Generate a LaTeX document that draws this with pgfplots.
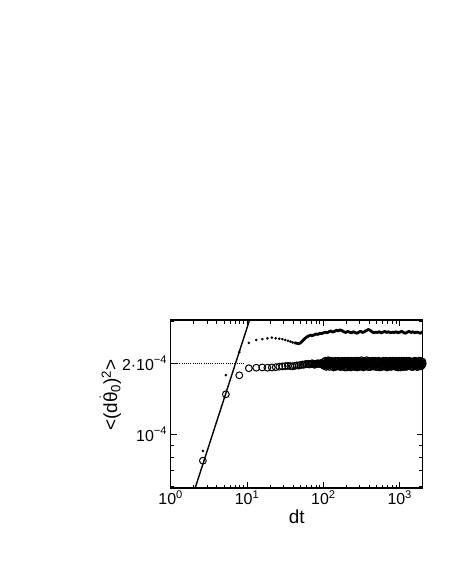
\documentclass[border=0pt]{standalone}
\usepackage{fontspec}
\setmainfont{Liberation Sans}
\usepackage{pgfplots}
\pgfplotsset{compat=1.18}

\newcommand{\thetadot}{$\dot{\hbox{θ}}$}

\begin{document}
\begin{tikzpicture}
  \begin{axis}[
      scale only axis,
      width=252bp, height=168bp,
      xmode=log, ymode=log,
      xmin=1, xmax=2000,
      ymin=5.92e-5, ymax=3.05e-4,
      xtick={1,10,100,1000},
      xticklabels={10\textsuperscript{0},10\textsuperscript{1},10\textsuperscript{2},10\textsuperscript{3}},
      minor xtick={2,3,...,9,20,30,...,90,200,300,...,900,2000},
      ytick={1e-4,2e-4},
      yticklabels={10\textsuperscript{−4},2·10\textsuperscript{−4}},
      minor ytick={6e-5,7e-5,8e-5,9e-5,3e-4},
      tick label style={font=\fontsize{16}{18}\selectfont},
      xticklabel style={yshift=1bp},
      label style={font=\fontsize{19}{22}\selectfont},
      major tick length=6bp, minor tick length=3.5bp,
      every tick/.style={black, line width=0.9bp},
      axis line style={line width=1.5bp},
      xlabel={dt},
      ylabel={<(d\thetadot\textsubscript{0})\textsuperscript{2}>},
      xlabel style={at={(axis description cs:0.5,-0.17)}, anchor=center},
      ylabel style={at={(axis description cs:-0.24,0.554)}, anchor=center},
    ]
    % fitted line
    \addplot[black, line width=1.4bp] coordinates {(1.9,5.38e-5) (11.5,3.25e-4)};
    % reference level
    \addplot[black, line width=1bp, dash pattern=on 1bp off 1.2bp] coordinates {(1,2e-4) (9,2e-4)};
    % filled dots, separated part
    \addplot[only marks, mark=*, mark size=1.1bp, black] coordinates {
      (2.64,8.5e-5) (5.28,1.78e-4) (7.92,2.23e-4) (10.56,2.44e-4)
      (13.2,2.51e-4) (15.84,2.53e-4) (18.48,2.55e-4) (21.12,2.57e-4)
      (23.76,2.55e-4) (26.4,2.54e-4) (29.04,2.53e-4) (31.68,2.51e-4)
      (34.32,2.49e-4) (36.96,2.47e-4) (39.6,2.45e-4) (42.24,2.44e-4)
    };
    % filled dots, dense part
    \addplot[black, line width=2.8bp, line join=round] coordinates {
      (42.24,2.44e-4) (44.9,2.43e-4) (47.5,2.42e-4) (50.2,2.44e-4) (52.8,2.48e-4)
      (56,2.53e-4) (60,2.58e-4) (64,2.61e-4) (68,2.63e-4) (72,2.62e-4)
      (76,2.64e-4) (80,2.66e-4) (85,2.65e-4) (90,2.68e-4) (95,2.67e-4)
      (100,2.69e-4) (106,2.71e-4) (112,2.69e-4) (118,2.72e-4) (125,2.74e-4)
      (132,2.71e-4) (140,2.73e-4) (148,2.76e-4) (156,2.74e-4) (165,2.77e-4)
      (175,2.75e-4) (185,2.72e-4) (196,2.70e-4) (208,2.73e-4) (220,2.71e-4)
      (233,2.69e-4) (246,2.72e-4) (260,2.70e-4) (275,2.68e-4) (291,2.71e-4)
      (308,2.73e-4) (326,2.70e-4) (345,2.72e-4) (365,2.75e-4) (386,2.78e-4)
      (408,2.76e-4) (432,2.72e-4) (457,2.69e-4) (483,2.71e-4) (511,2.70e-4)
      (541,2.72e-4) (572,2.69e-4) (605,2.71e-4) (640,2.73e-4) (677,2.70e-4)
      (716,2.72e-4) (757,2.69e-4) (801,2.71e-4) (847,2.70e-4) (896,2.72e-4)
      (948,2.69e-4) (1003,2.71e-4) (1061,2.73e-4) (1122,2.70e-4) (1187,2.68e-4)
      (1255,2.71e-4) (1328,2.73e-4) (1405,2.70e-4) (1486,2.72e-4) (1572,2.69e-4)
      (1663,2.71e-4) (1759,2.70e-4) (1860,2.68e-4) (1968,2.71e-4) (2000,2.72e-4)
    };
    % open circles
    \addplot[only marks, mark=o, mark size=3.4bp, black, mark options={line width=1.0bp}] coordinates {
      (2.64,7.73e-5) (5.28,1.477e-4) (7.92,1.778e-4) (10.56,1.905e-4)
      (13.2,1.915e-4) (15.84,1.92e-4) (18.48,1.915e-4) (21.12,1.92e-4)
      (23.76,1.925e-4) (26.4,1.935e-4) (29.04,1.94e-4) (31.68,1.945e-4)
      (34.32,1.95e-4) (36.96,1.945e-4) (39.6,1.94e-4) (42.24,1.95e-4)
      (44.88,1.96e-4) (47.52,1.955e-4) (50.16,1.965e-4) (52.8,1.975e-4)
      (55.44,1.97e-4) (58.08,1.985e-4) (60.72,1.98e-4) (63.36,1.99e-4)
      (66.0,1.975e-4) (68.64,1.985e-4) (71.28,2.0e-4) (73.92,1.99e-4)
      (76.56,1.97e-4) (79.2,1.98e-4) (81.84,1.995e-4) (84.48,2.0e-4)
      (87.12,1.985e-4) (89.76,1.99e-4) (92.4,2.005e-4) (95.04,1.99e-4)
      (97.68,1.975e-4)
      (100,1.99e-4) (102.5,2.03e-4) (105,1.96e-4) (107.7,2.01e-4) (110.4,1.95e-4)
      (113,2.04e-4) (116,2.06e-4) (119,1.98e-4) (122,2.05e-4) (125,1.97e-4)
      (128,2.01e-4) (131,1.94e-4) (134,2.02e-4) (138,1.96e-4) (141,2.03e-4)
      (145,1.93e-4) (148,1.99e-4) (152,2.04e-4) (156,1.95e-4) (160,2.01e-4)
      (164,1.93e-4) (168,2.03e-4) (172,1.97e-4) (176,2.05e-4) (181,1.96e-4)
      (185,2.00e-4) (190,1.92e-4) (195,2.02e-4) (200,1.95e-4) (205,2.04e-4)
      (210,1.98e-4) (215,1.93e-4) (220,2.01e-4) (226,1.96e-4) (232,2.05e-4)
      (237,1.99e-4) (243,1.94e-4) (249,2.02e-4) (256,1.93e-4) (262,2.00e-4)
      (269,2.05e-4) (275,1.96e-4) (282,2.02e-4) (289,1.94e-4) (296,1.99e-4)
      (304,2.04e-4) (311,1.95e-4) (319,2.03e-4) (327,1.97e-4) (335,1.92e-4)
      (344,2.01e-4) (352,1.95e-4) (361,2.03e-4) (370,2.06e-4) (379,1.97e-4)
      (389,2.02e-4) (399,1.93e-4) (409,1.98e-4) (419,2.04e-4) (429,1.96e-4)
      (440,2.05e-4) (451,2.00e-4) (462,1.94e-4) (474,2.02e-4) (486,1.93e-4)
      (498,2.00e-4) (510,2.04e-4) (523,1.95e-4) (536,2.01e-4) (550,1.92e-4)
      (563,1.98e-4) (577,2.03e-4) (592,1.96e-4) (607,2.05e-4) (622,1.99e-4)
      (637,1.94e-4) (653,2.02e-4) (670,1.95e-4) (686,2.03e-4) (704,1.97e-4)
      (721,2.04e-4) (739,1.94e-4) (758,2.00e-4) (777,1.93e-4) (796,2.02e-4)
      (816,2.05e-4) (836,1.96e-4) (857,2.01e-4) (879,1.93e-4) (901,1.99e-4)
      (923,2.04e-4) (946,1.95e-4) (970,2.02e-4) (994,1.97e-4) (1019,1.92e-4)
      (1045,2.01e-4) (1071,1.95e-4) (1098,2.03e-4) (1125,2.05e-4) (1153,1.96e-4)
      (1182,2.01e-4) (1212,1.93e-4) (1242,1.99e-4) (1273,2.04e-4) (1305,1.95e-4)
      (1337,2.02e-4) (1371,1.94e-4) (1405,2.00e-4) (1440,1.93e-4) (1476,2.03e-4)
      (1513,1.97e-4) (1551,2.04e-4) (1590,1.95e-4) (1630,2.01e-4) (1670,1.93e-4)
      (1712,2.00e-4) (1755,2.04e-4) (1799,1.96e-4) (1844,2.02e-4) (1890,1.94e-4)
      (1937,2.00e-4) (1985,2.03e-4) (2000,1.99e-4)
    };
    % open circles, in-between samples of the dense tail
    \addplot[only marks, mark=o, mark size=3.4bp, black, mark options={line width=1.0bp}] coordinates {
      (101.2,1.95e-4) (103.7,2.00e-4) (106.3,2.05e-4) (109,1.93e-4) (111.7,2.02e-4)
      (114.5,1.96e-4) (117.5,2.01e-4) (120.5,1.93e-4) (123.5,2.00e-4) (126.5,2.05e-4)
      (129.5,1.98e-4) (132.5,2.04e-4) (136,1.92e-4) (139.5,1.99e-4) (143,2.05e-4)
      (146.5,1.97e-4) (150,1.94e-4) (154,2.00e-4) (158,2.05e-4) (162,1.97e-4)
      (166,1.99e-4) (170,1.93e-4) (174,2.00e-4) (178.5,1.94e-4) (183,2.04e-4)
      (187.5,1.97e-4) (192.5,2.05e-4) (197.5,1.99e-4) (202.5,1.92e-4) (207.5,2.00e-4)
      (212.5,2.05e-4) (217.5,1.96e-4) (223,2.04e-4) (229,1.92e-4) (234.5,1.97e-4)
      (240,2.03e-4) (246,1.98e-4) (252.5,2.05e-4) (259,1.97e-4) (265.5,1.93e-4)
      (272,1.99e-4) (278.5,1.92e-4) (285.5,2.05e-4) (292.5,2.01e-4) (300,1.93e-4)
      (307.5,1.99e-4) (315,2.06e-4) (323,1.94e-4) (331,2.02e-4) (339.5,2.05e-4)
      (348,1.97e-4) (356.5,2.04e-4) (365.5,1.94e-4) (374.5,1.99e-4) (384,1.93e-4)
      (394,2.05e-4) (404,2.02e-4) (414,1.93e-4) (424,1.99e-4) (434.5,2.02e-4)
      (445.5,1.94e-4) (456.5,2.04e-4) (468,1.97e-4) (480,2.05e-4) (492,1.97e-4)
      (504,1.93e-4) (516.5,1.99e-4) (529.5,2.05e-4) (543,1.97e-4) (556.5,2.03e-4)
      (570,1.95e-4) (584.5,1.93e-4) (599.5,2.00e-4) (614.5,1.94e-4) (629.5,2.04e-4)
      (645,1.98e-4) (661.5,2.05e-4) (678,1.92e-4) (695,1.99e-4) (712.5,1.93e-4)
      (730,2.00e-4) (748.5,2.05e-4) (767.5,1.97e-4) (786.5,2.04e-4) (806,1.95e-4)
      (826,1.99e-4) (846.5,2.04e-4) (868,1.97e-4) (890,2.05e-4) (912,1.94e-4)
      (934.5,1.99e-4) (958,1.92e-4) (982,2.05e-4) (1006.5,2.02e-4) (1032,1.96e-4)
      (1058,2.05e-4) (1084.5,1.93e-4) (1111.5,1.98e-4) (1139,1.93e-4) (1167.5,2.04e-4)
      (1197,1.97e-4) (1227,2.05e-4) (1257.5,1.94e-4) (1289,1.97e-4) (1321,2.05e-4)
      (1354,1.98e-4) (1388,2.04e-4) (1422.5,1.97e-4) (1458,1.99e-4) (1494.5,1.93e-4)
      (1532,2.00e-4) (1570.5,2.05e-4) (1610,1.98e-4) (1650,2.04e-4) (1691,1.97e-4)
      (1733.5,1.93e-4) (1777,1.99e-4) (1821.5,2.05e-4) (1867,1.98e-4) (1913.5,2.04e-4)
      (1961,1.96e-4)
    };
  \end{axis}
  \path[use as bounding box]
    ([xshift=-170.7bp,yshift=-94bp]current axis.south west)
    rectangle ([xshift=27.3bp,yshift=320bp]current axis.north east);
\end{tikzpicture}
\end{document}
